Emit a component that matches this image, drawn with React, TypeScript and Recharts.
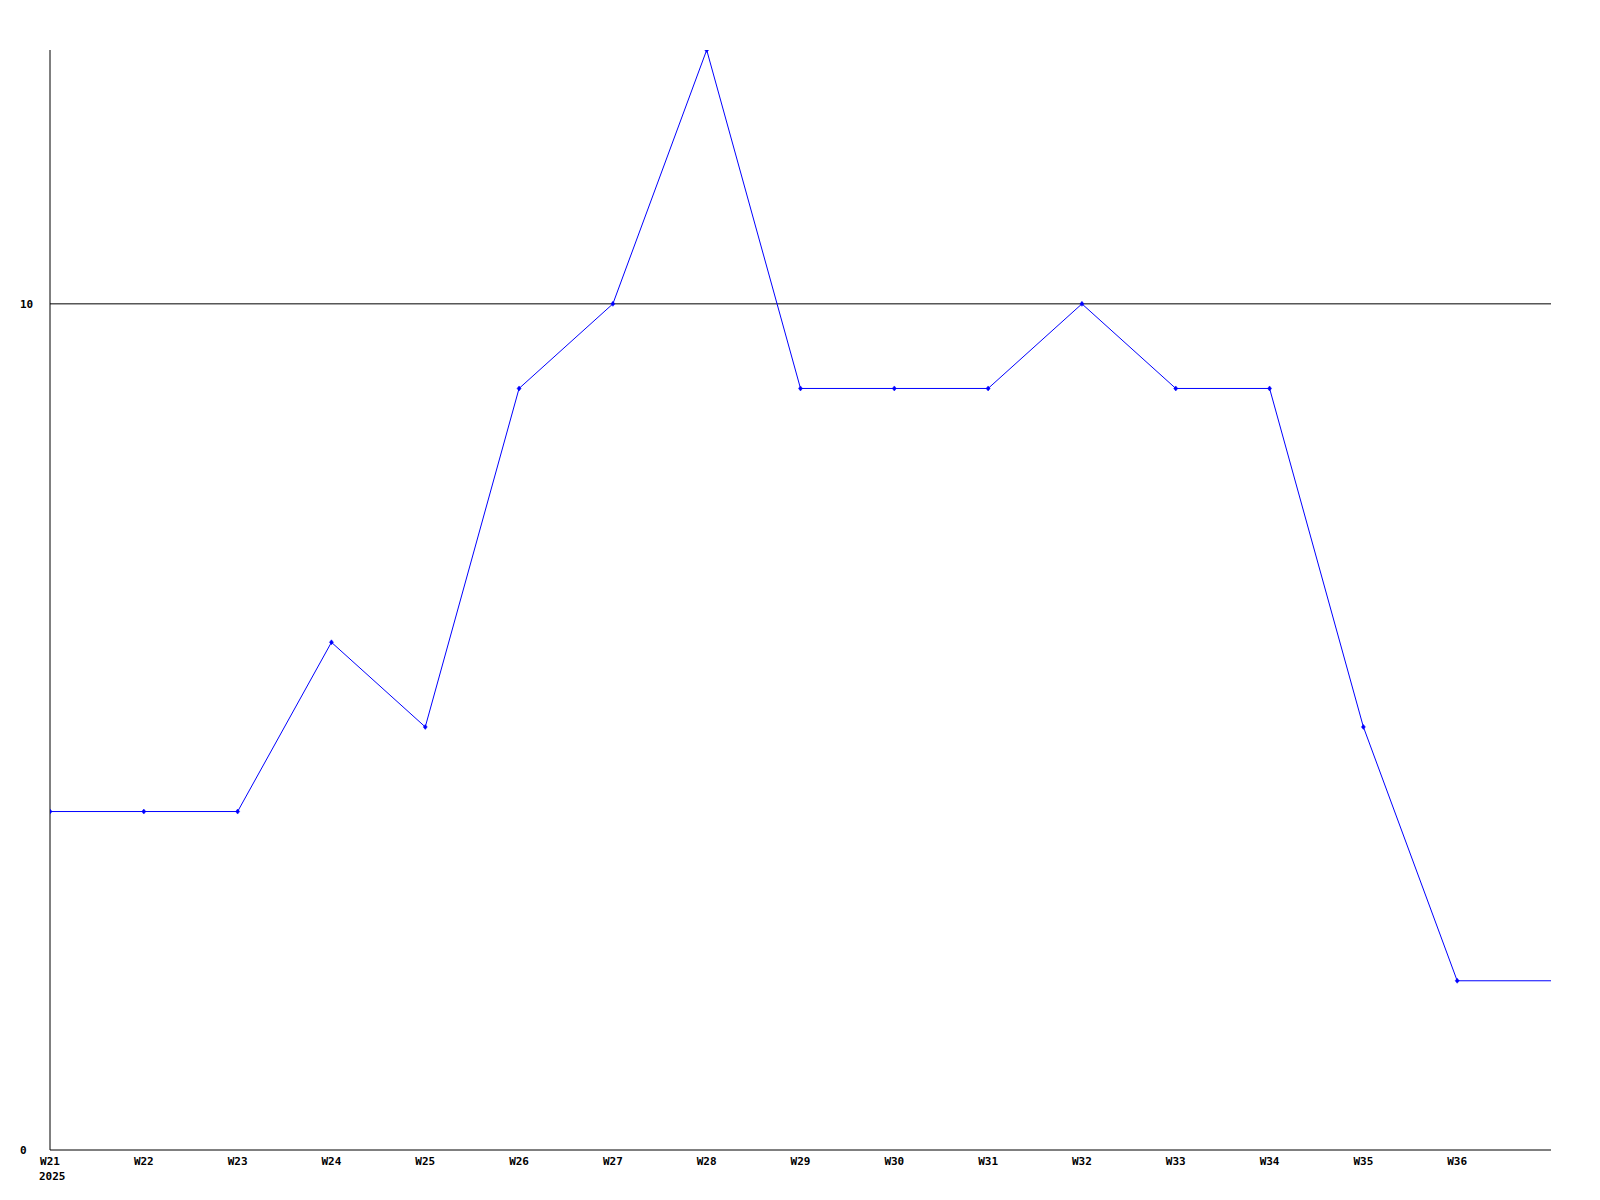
import React from "react";
import { LineChart, Line, XAxis, YAxis, ReferenceLine } from "recharts";

const weeks = [21, 22, 23, 24, 25, 26, 27, 28, 29, 30, 31, 32, 33, 34, 35, 36, 37];
const values = [4, 4, 4, 6, 5, 9, 10, 13, 9, 9, 9, 10, 9, 9, 5, 2, 2];
const xTicks = [21, 22, 23, 24, 25, 26, 27, 28, 29, 30, 31, 32, 33, 34, 35, 36];
const yTicks = [0, 10];
const gridValue = 10;
const yearLabel = "2025";

const data = weeks.map((w, i) => ({ week: w, value: values[i] }));

const FONT = "'DejaVu Sans Mono', monospace";

const XTick = (props: any) => {
  const { x, y, payload, index } = props;
  return (
    <g>
      <text x={x} y={y} dy={15} textAnchor="middle" fontFamily={FONT} fontWeight="bold" fontSize={11} fill="#000">
        {`W${payload.value}`}
      </text>
      {index === 0 ? (
        <text x={x - 11} y={y} dy={30} textAnchor="start" fontFamily={FONT} fontWeight="bold" fontSize={11} fill="#000">
          {yearLabel}
        </text>
      ) : null}
    </g>
  );
};

const YTick = (props: any) => {
  const { x, y, payload } = props;
  return (
    <text x={x - 30} y={y} dy={4} textAnchor="start" fontFamily={FONT} fontWeight="bold" fontSize={11} fill="#000">
      {payload.value}
    </text>
  );
};

const Dot = (props: any) => {
  const { cx, cy, payload, index } = props;
  if (payload.week > 36) return <g key={`d${index}`} />;
  return (
    <path
      key={`d${index}`}
      d={`M${cx},${cy - 2.5}L${cx + 2},${cy}L${cx},${cy + 2.5}L${cx - 2},${cy}Z`}
      fill="#0000ff"
      stroke="#0000ff"
      strokeWidth={0.5}
    />
  );
};

export default function App() {
  return (
    <div style={{ position: "absolute", left: 0, top: 0, background: "#fff" }}>
      <LineChart
        width={1600}
        height={1200}
        data={data}
        margin={{ top: 50, right: 49, bottom: 0, left: 0 }}
      >
        <XAxis
          dataKey="week"
          type="number"
          domain={[21, 37]}
          ticks={xTicks}
          allowDataOverflow
          height={50}
          axisLine={{ stroke: "#000" }}
          tickLine={false}
          tickSize={0}
          tickMargin={0}
          tick={<XTick />}
          interval={0}
        />
        <YAxis
          type="number"
          domain={[0, 13]}
          ticks={yTicks}
          allowDataOverflow
          width={50}
          axisLine={{ stroke: "#000" }}
          tickLine={false}
          tickSize={0}
          tickMargin={0}
          tick={<YTick />}
          interval={0}
        />
        <ReferenceLine y={gridValue} stroke="#000" strokeWidth={1} />
        <Line
          type="linear"
          dataKey="value"
          stroke="#0000ff"
          strokeWidth={1}
          dot={<Dot />}
          activeDot={false}
          isAnimationActive={false}
        />
      </LineChart>
    </div>
  );
}
